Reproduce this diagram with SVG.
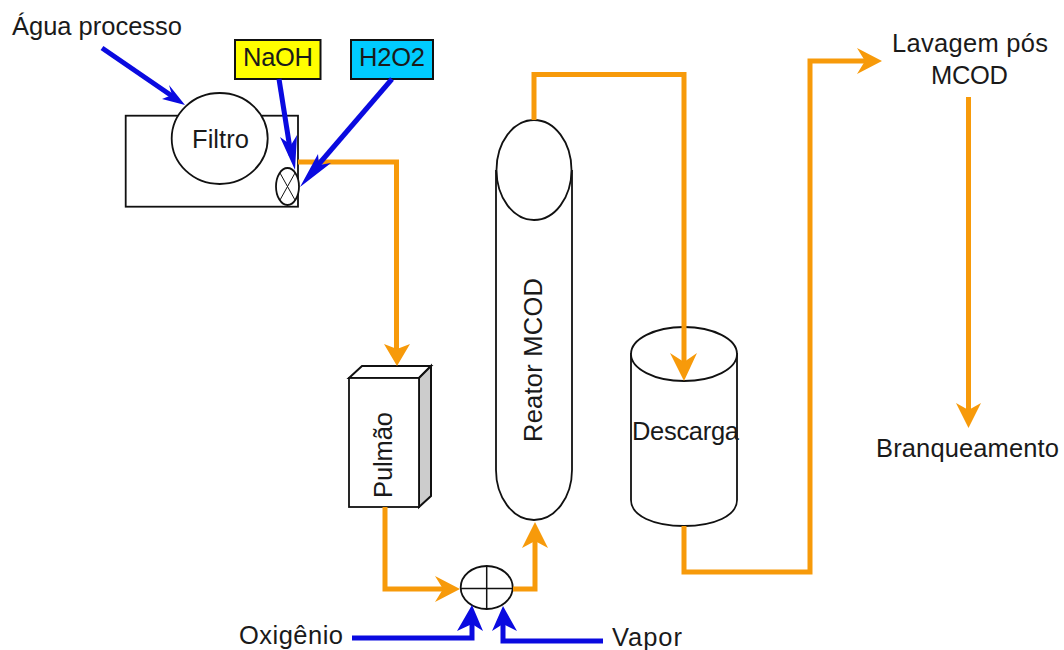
<svg xmlns="http://www.w3.org/2000/svg" width="1064" height="650" viewBox="0 0 1064 650">
<style>
text{font-family:"Liberation Sans",Arial,sans-serif;font-size:25.500px;fill:#1a1a1a;text-anchor:middle}
.s{fill:#fff;stroke:#111;stroke-width:1.800}
.n{fill:none;stroke:#111;stroke-width:1.500}
.o{fill:none;stroke:#f79a0a;stroke-width:5}
.b{fill:none;stroke:#0a0ae0;stroke-width:5}
.oh{fill:#f79a0a}
.bh{fill:#0a0ae0}
</style>
<rect width="1064" height="650" fill="#fff"/>
<g id="filtro">
<rect class="s" x="125.700" y="115.700" width="172.300" height="91"/>
<ellipse class="s" cx="219.700" cy="138.500" rx="48" ry="45.500"/>
<text x="220.500" y="148" textLength="57">Filtro</text>
</g>
<g id="misturador">
<ellipse class="s" cx="287.500" cy="186.500" rx="11.500" ry="18.500"/>
<path class="n" d="M280 173L295 200M295 173L280 200" style="stroke-width:1"/>
</g>
<g id="naoh">
<rect x="235" y="40" width="85.500" height="39" fill="#ffff00" stroke="#111" stroke-width="2"/>
<text x="278" y="66" textLength="70">NaOH</text>
</g>
<g id="h2o2">
<rect x="351" y="40" width="82" height="39" fill="#00ccff" stroke="#111" stroke-width="2"/>
<text x="392" y="66" textLength="66">H2O2</text>
</g>
<g id="pulmao">
<path d="M349 378L362 366H431L419 378Z" fill="#fff" stroke="#111" stroke-width="2"/>
<path d="M419 378L431 366V496L419 507Z" fill="#ccc" stroke="#111" stroke-width="2"/>
<rect class="s" x="349" y="378" width="70" height="129"/>
<text transform="translate(392 455) rotate(-90)" textLength="86">Pulmão</text>
</g>
<g id="reator">
<path class="s" d="M496 170V470A38 50 0 0 0 572 470V170"/>
<ellipse class="s" cx="534" cy="170" rx="37.500" ry="50"/>
<text transform="translate(541.500 360) rotate(-90)" textLength="164">Reator MCOD</text>
</g>
<g id="descarga">
<path class="s" d="M631 353V500C631 516 654 526 684 526C714 526 737 516 737 500V353"/>
<ellipse class="s" cx="684" cy="354" rx="53" ry="27"/>
<text x="685.500" y="440" textLength="107">Descarga</text>
</g>
<g id="mistura">
<ellipse class="s" cx="486.700" cy="587.500" rx="26" ry="21.500"/>
<path class="n" d="M460.700 588.500H512.700M486.700 566V609"/>
</g>
<g id="connectors">
<path class="o" d="M298 162H396.500V350"/>
<path class="oh" d="M397 366L384 344L397 349L410 344Z"/>
<path class="o" d="M534 120V74.500H684V365"/>
<path class="oh" d="M684 381L670 353L684 362L697 353Z"/>
<path class="o" d="M385 507V589H445"/>
<path class="oh" d="M460 589L435 576L443 589L435 602Z"/>
<path class="o" d="M513 589H535V540"/>
<path class="oh" d="M535 522L522 548L535 541L548 548Z"/>
<path class="o" d="M684 526V572H810V61H865"/>
<path class="oh" d="M882 61L857 48L865 61L857 74Z"/>
<path class="o" d="M968.500 97V415"/>
<path class="oh" d="M968.500 428L956 403L968.500 410L981 403Z"/>
<path class="b" d="M102 48L172 96"/>
<path class="bh" d="M185 105L162 99L172 95L169 85Z"/>
<path class="b" d="M279 79L291 155"/>
<path class="bh" d="M295 170L280 137L291 145L297 135Z"/>
<path class="b" d="M392 79L312 172"/>
<path class="bh" d="M300 187L318 154L319 165L331 163Z"/>
<path class="b" d="M352 638H472V620"/>
<path class="bh" d="M472 605L457 631L472 624L483 631Z"/>
<path class="b" d="M603 641H503V620"/>
<path class="bh" d="M503 606L492 631L503 624L517 631Z"/>
</g>
<g id="labels">
<text x="97" y="35" textLength="170">Água processo</text>
<text x="291" y="644" textLength="104">Oxigênio</text>
<text x="647" y="646" textLength="70">Vapor</text>
<text x="970" y="52" textLength="156">Lavagem pós</text>
<text x="969.500" y="84" textLength="77">MCOD</text>
<text x="967.500" y="457" textLength="183">Branqueamento</text>
</g>
</svg>
